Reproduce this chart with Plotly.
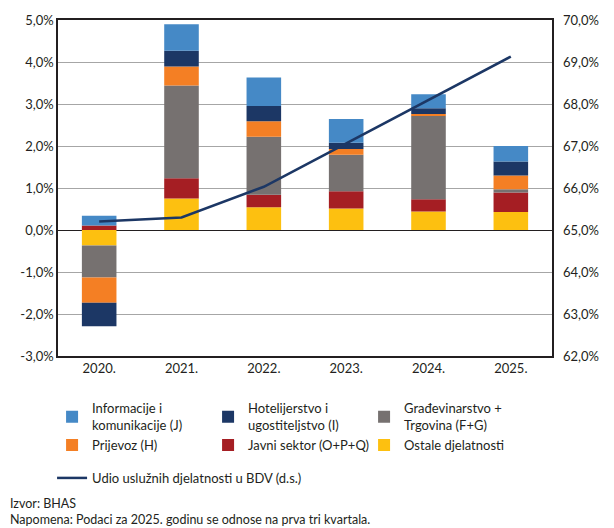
"""
Doprinos uslužnih djelatnosti rastu BDV-a i udio u BDV.
"""
import plotly.graph_objects as go
from plotly.subplots import make_subplots

years = ["2020.", "2021.", "2022.", "2023.", "2024.", "2025."]

# contributions, percentage points (stack order: bottom -> top)
ostale = [-0.37, 0.75, 0.54, 0.51, 0.44, 0.43]
javni = [0.11, 0.48, 0.30, 0.41, 0.29, 0.46]
gradj_trg = [-0.76, 2.21, 1.38, 0.87, 1.99, 0.08]
prijevoz = [-0.60, 0.45, 0.37, 0.14, 0.04, 0.33]
hotel = [-0.56, 0.38, 0.36, 0.15, 0.14, 0.33]
info = [0.23, 0.63, 0.68, 0.56, 0.33, 0.37]

# share of services in GVA (right axis)
udio = [65.2, 65.3, 66.03, 67.06, 68.09, 69.13]

left_ticks = [-3, -2, -1, 0, 1, 2, 3, 4, 5]
right_ticks = [62, 63, 64, 65, 66, 67, 68, 69, 70]

FONT = "Lato"
series = [
    ("Ostale djelatnosti", ostale, "#FDC010", 6),
    ("Javni sektor (O+P+Q)", javni, "#A51E23", 5),
    ("Građevinarstvo +<br>Trgovina (F+G)", gradj_trg, "#767170", 3),
    ("Prijevoz (H)", prijevoz, "#F47F24", 4),
    ("Hotelijerstvo i<br>ugostiteljstvo (I)", hotel, "#1C3765", 2),
    ("Informacije i<br>komunikacije (J)", info, "#4589C6", 1),
]

fig = make_subplots(specs=[[{"secondary_y": True}]])

for name, vals, color, rank in series:
    fig.add_trace(go.Bar(
        x=years, y=vals, name=name,
        marker=dict(color=color, line=dict(width=0)),
        width=0.42, legendrank=rank,
    ), secondary_y=False)

# line goes in its own legend row below the bar legend
fig.add_trace(go.Scatter(
    x=years, y=udio, mode="lines",
    name="Udio uslužnih djelatnosti u BDV (d.s.)",
    line=dict(color="#1C3765", width=2.5),
    legend="legend2",
), secondary_y=True)

fig.update_layout(
    width=614, height=528,
    margin=dict(l=58, r=62, t=20, b=172, autoexpand=False),
    barmode="relative",
    plot_bgcolor="white",
    paper_bgcolor="white",
    font=dict(family=FONT, size=13, color="#231F20"),
    legend=dict(
        orientation="h",
        x=-0.012, xanchor="left",
        y=-0.111, yanchor="top",
        entrywidth=111, entrywidthmode="pixels",
        itemwidth=30,
        font=dict(family=FONT, size=13),
    ),
    legend2=dict(
        orientation="h",
        x=-0.012, xanchor="left",
        y=-0.363, yanchor="middle",
        itemwidth=30,
        font=dict(family=FONT, size=13),
    ),
    annotations=[
        dict(text="Izvor: BHAS<br>Napomena: Podaci za 2025. godinu se odnose na prva tri kvartala.",
             xref="paper", yref="paper", x=-0.102, y=-0.41,
             xanchor="left", yanchor="top", align="left", showarrow=False,
             font=dict(family=FONT, size=12.5)),
    ],
)

fig.update_xaxes(
    domain=[0, 1],
    showline=True, linecolor="#231F20", linewidth=1.5, mirror=True,
    ticks="", tickfont=dict(size=13), automargin=False,
)
fig.update_yaxes(
    range=[-3, 5],
    showgrid=True, gridcolor="#A6A6A6", gridwidth=1,
    zeroline=True, zerolinecolor="#231F20", zerolinewidth=1.2,
    showline=True, linecolor="#231F20", linewidth=1.5, mirror=True,
    tickvals=left_ticks,
    ticktext=[f"{v:.1f}%".replace(".", ",") for v in left_ticks],
    ticks="", automargin=False, secondary_y=False,
)
fig.update_yaxes(
    range=[62, 70], showgrid=False, zeroline=False,
    tickvals=right_ticks,
    ticktext=[f"{v:.1f}%".replace(".", ",") for v in right_ticks],
    ticks="", ticklabelstandoff=10, automargin=False, secondary_y=True,
)

fig.write_html(
    "out.html",
    config={"displayModeBar": False},
    post_script="document.body.style.margin='0';",
)
